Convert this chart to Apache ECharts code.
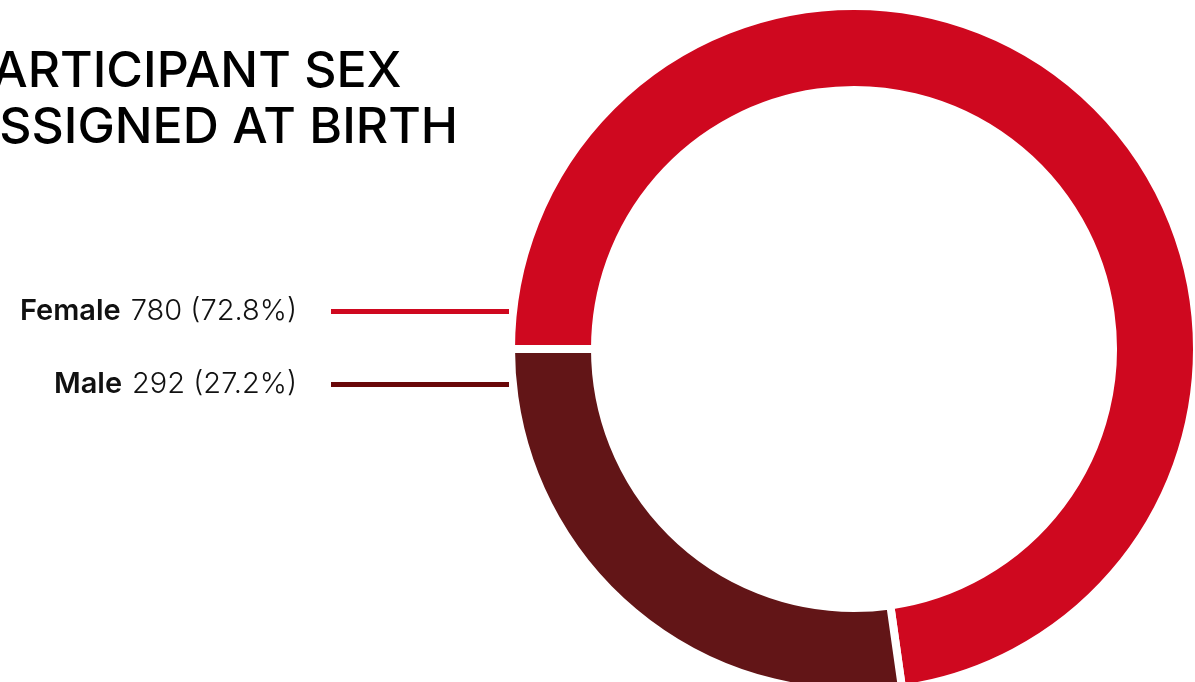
<!DOCTYPE html>
<html>
<head>
<meta charset="utf-8">
<script src="https://cdn.jsdelivr.net/npm/echarts@6/dist/echarts.min.js"></script>
<style>
  html, body { margin: 0; padding: 0; background: #ffffff; }
  #chart { width: 1195px; height: 682px; }
</style>
</head>
<body>
<div id="chart"></div>
<script>
// Participant counts by sex assigned at birth
const categories = ['Female', 'Male'];
const counts = [780, 292];
const percents = ['72.8%', '27.2%'];
const sliceColors = ['#CF081F', '#621517'];
const keyColors = ['#CF081F', '#690709'];

const chart = echarts.init(document.getElementById('chart'));

const pieData = categories.map((name, i) => ({
  name: name,
  value: counts[i],
  itemStyle: { color: sliceColors[i] }
}));

const legendData = categories.map((name, i) => ({
  name: name,
  itemStyle: { color: keyColors[i], borderWidth: 0 }
}));

chart.setOption({
  backgroundColor: '#ffffff',
  animation: false,
  title: {
    text: 'PARTICIPANT SEX\nASSIGNED AT BIRTH',
    left: -36,
    top: 44,
    padding: 0,
    textStyle: {
      fontFamily: 'Inter',
      fontWeight: 500,
      fontSize: 50,
      lineHeight: 56,
      color: '#000000'
    }
  },
  legend: {
    orient: 'vertical',
    align: 'right',
    right: 686,
    top: 297,
    padding: 0,
    itemWidth: 178,
    itemHeight: 5,
    itemGap: 44,
    icon: 'rect',
    selectedMode: false,
    data: legendData,
    formatter: function (name) {
      const i = categories.indexOf(name);
      return '{b|' + name + '}{v|' + counts[i] + ' (' + percents[i] + ')}';
    },
    textStyle: {
      padding: [0, 29, 0, 0],
      rich: {
        b: { fontFamily: 'Inter', fontWeight: 600, fontSize: 29, color: '#111111', lineHeight: 34 },
        v: { fontFamily: 'Inter', fontWeight: 300, fontSize: 29, color: '#111111', lineHeight: 34, padding: [0, 0, 0, 10] }
      }
    }
  },
  series: [{
    type: 'pie',
    center: [854, 349],
    radius: [259, 343],
    startAngle: 180,
    clockwise: true,
    label: { show: false },
    labelLine: { show: false },
    emphasis: { disabled: true },
    itemStyle: { borderColor: '#ffffff', borderWidth: 8 },
    data: pieData
  }]
});
</script>
</body>
</html>
